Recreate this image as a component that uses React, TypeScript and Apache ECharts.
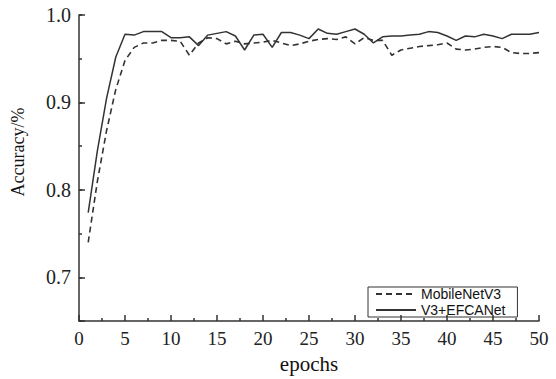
import React, { useEffect, useRef } from "react";
import * as echarts from "echarts";

const epochs = [
  1, 2, 3, 4, 5, 6, 7, 8, 9, 10, 11, 12, 13, 14, 15, 16, 17, 18, 19, 20, 21, 22, 23, 24, 25,
  26, 27, 28, 29, 30, 31, 32, 33, 34, 35, 36, 37, 38, 39, 40, 41, 42, 43, 44, 45, 46, 47, 48, 49, 50,
];

const mobileNetV3 = [
  0.74, 0.81, 0.868, 0.915, 0.948, 0.963, 0.968, 0.968, 0.971, 0.971,
  0.97, 0.954, 0.968, 0.974, 0.973, 0.967, 0.97, 0.967, 0.968, 0.969,
  0.971, 0.968, 0.965, 0.967, 0.97, 0.972, 0.973, 0.972, 0.975, 0.967,
  0.974, 0.971, 0.971, 0.954, 0.96, 0.962, 0.964, 0.965, 0.966, 0.968,
  0.961, 0.96, 0.961, 0.963, 0.964, 0.963, 0.957, 0.956, 0.956, 0.957,
];

const v3Efcanet = [
  0.774, 0.845, 0.905, 0.952, 0.978, 0.977, 0.981, 0.981, 0.981, 0.974,
  0.974, 0.975, 0.965, 0.977, 0.979, 0.981, 0.976, 0.96, 0.977, 0.978,
  0.963, 0.98, 0.98, 0.977, 0.973, 0.984, 0.979, 0.978, 0.981, 0.984,
  0.978, 0.968, 0.975, 0.976, 0.976, 0.977, 0.978, 0.981, 0.98, 0.976,
  0.971, 0.976, 0.975, 0.978, 0.976, 0.973, 0.978, 0.978, 0.978, 0.98,
];

const seriesNames = ["MobileNetV3", "V3+EFCANet"];
const xTitle = "epochs";
const yTitle = "Accuracy/%";

export default function App() {
  const ref = useRef<HTMLDivElement>(null);
  useEffect(() => {
    if (!ref.current) return;
    const chart = echarts.init(ref.current, null, { renderer: "svg" });
    const axisColor = "#333";
    const serif = "'Liberation Serif', 'Times New Roman', serif";
    const sans = "'Liberation Sans', Arial, sans-serif";
    chart.setOption({
      animation: false,
      backgroundColor: "#fff",
      grid: { left: 79, right: 17, top: 15, bottom: 50, containLabel: false },
      legend: {
        data: seriesNames,
        orient: "vertical",
        left: 368,
        top: 287,
        itemGap: 2,
        itemWidth: 40,
        itemHeight: 14,
        padding: [0, 12, 0, 7],
        borderColor: "#333",
        borderWidth: 1,
        borderRadius: 0,
        itemStyle: { opacity: 0 },
        textStyle: { fontFamily: sans, fontSize: 14, lineHeight: 14, color: "#111" },
      },
      xAxis: {
        type: "value",
        min: 0,
        max: 50,
        interval: 5,
        name: xTitle,
        nameLocation: "middle",
        nameGap: 22,
        nameTextStyle: { fontFamily: serif, fontSize: 21, color: "#111" },
        axisLine: { lineStyle: { color: axisColor, width: 1.5 } },
        axisTick: { inside: true, length: 6, lineStyle: { color: axisColor, width: 1.5 } },
        minorTick: { show: true, splitNumber: 2, length: 3, lineStyle: { color: axisColor, width: 1.5 } },
        axisLabel: { fontFamily: serif, fontSize: 19, color: "#222", margin: 8 },
        splitLine: { show: false },
      },
      yAxis: [
        {
          type: "value",
          min: 0.65,
          max: 1.0,
          interval: 0.05,
          axisLine: { show: true, lineStyle: { color: axisColor, width: 1.5 } },
          axisTick: { show: true, inside: true, length: 3, lineStyle: { color: axisColor, width: 1.5 } },
          axisLabel: { show: false },
          splitLine: { show: false },
        },
        {
          type: "value",
          position: "left",
          min: 0.65,
          max: 1.0,
          splitNumber: 4,
          axisLine: { show: false },
          axisTick: { show: true, inside: true, length: 6, lineStyle: { color: axisColor, width: 1.5 } },
          axisLabel: {
            fontFamily: serif,
            fontSize: 20,
            color: "#222",
            margin: 8,
            formatter: (v: number) =>
              Math.abs(v * 10 - Math.round(v * 10)) < 1e-6 ? v.toFixed(1) : "",
          },
          splitLine: { show: false },
        },
      ],
      graphic: [
        {
          type: "text",
          x: 18,
          y: 152,
          rotation: Math.PI / 2,
          style: {
            text: yTitle,
            fontFamily: serif,
            fontSize: 18,
            fill: "#111",
            align: "center",
            verticalAlign: "middle",
          },
        },
      ],
      series: [
        {
          name: seriesNames[0],
          type: "line",
          yAxisIndex: 0,
          symbol: "none",
          data: epochs.map((e, i) => [e, mobileNetV3[i]]),
          lineStyle: { color: "#333", width: 1.6, type: [6, 4] },
          itemStyle: { color: "#333" },
        },
        {
          name: seriesNames[1],
          type: "line",
          yAxisIndex: 0,
          symbol: "none",
          data: epochs.map((e, i) => [e, v3Efcanet[i]]),
          lineStyle: { color: "#333", width: 1.5, type: "solid" },
          itemStyle: { color: "#333" },
        },
      ],
    });
    return () => chart.dispose();
  }, []);
  return (
    <div
      ref={ref}
      style={{ position: "fixed", left: 0, top: 0, width: 556, height: 379 }}
    />
  );
}
